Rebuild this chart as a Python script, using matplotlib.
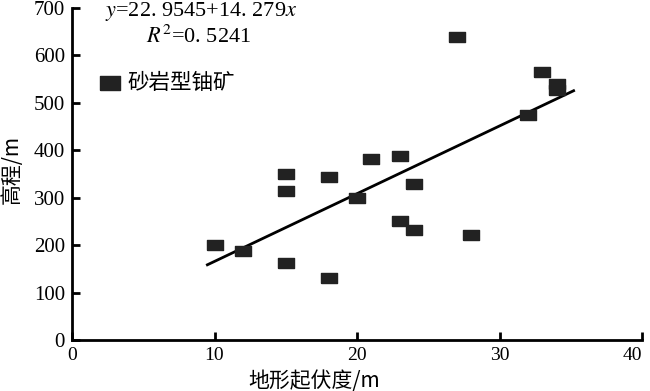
import numpy as np
import matplotlib.pyplot as plt

relief = [10, 12, 15, 15, 15, 18, 18, 20, 21, 23, 23, 24, 24, 27, 28, 32, 33, 34, 34]
elev = [200, 188, 350, 315, 162, 343, 130, 300, 382, 388, 250, 328, 233, 638, 222, 475, 566, 540, 527]
b0, b1 = 22.9545, 14.279
line_x = [9.5, 35.2]

cjk = ['Noto Sans CJK SC', 'DejaVu Sans']
serif = ['Liberation Serif', 'DejaVu Serif']

fig = plt.figure(figsize=(6.5, 3.91), dpi=100)
ax = fig.add_axes([0.1108, 0.1304, 0.8769, 0.8491])

rect = [(-1.5, -1), (1.5, -1), (1.5, 1), (-1.5, 1), (-1.5, -1)]
ax.scatter(relief, elev, marker=rect, s=135, color='#222222', zorder=3)
lx = np.array(line_x)
ax.plot(lx, b0 + b1 * lx, color='black', lw=2)

ax.set_xlim(0, 40)
ax.set_ylim(0, 700)
ax.set_xticks([0, 10, 20, 30, 40])
ax.set_yticks(range(0, 701, 100))
for s in ['top', 'right']:
    ax.spines[s].set_visible(False)
for s in ['left', 'bottom']:
    ax.spines[s].set_linewidth(2)
ax.tick_params(direction='in', length=6, width=2, labelsize=15, pad=5)
ax.tick_params(axis='x', labelsize=14)
for lab in ax.get_xticklabels() + ax.get_yticklabels():
    lab.set_family(serif)
# keep the last x tick label inside the figure
ax.get_xticklabels()[-1].set_horizontalalignment('right')
ax.get_xticklabels()[-1].set_x(40.5)

ax.set_xlabel('地形起伏度/m', family=cjk, fontsize=15)
ax.xaxis.set_label_coords(0.425, -0.09)
ax.set_ylabel('高程/m', family=cjk, fontsize=15)
ax.yaxis.set_label_coords(-0.086, 0.515)

ax.scatter([2.67], [542], marker=rect, s=200, color='#222222')
ax.text(3.9, 542, '砂岩型铀矿', family=cjk, fontsize=15.5, va='center')
ax.text(2.3, 692, r'$y$=22. 9545+14. 279$x$', family=serif, fontsize=16, va='center',
        math_fontfamily='stix')
ax.text(5.2, 640, r'$R^2$=0. 5241', family=serif, fontsize=16, va='center',
        math_fontfamily='stix')

fig.savefig('out.png', dpi=100)
